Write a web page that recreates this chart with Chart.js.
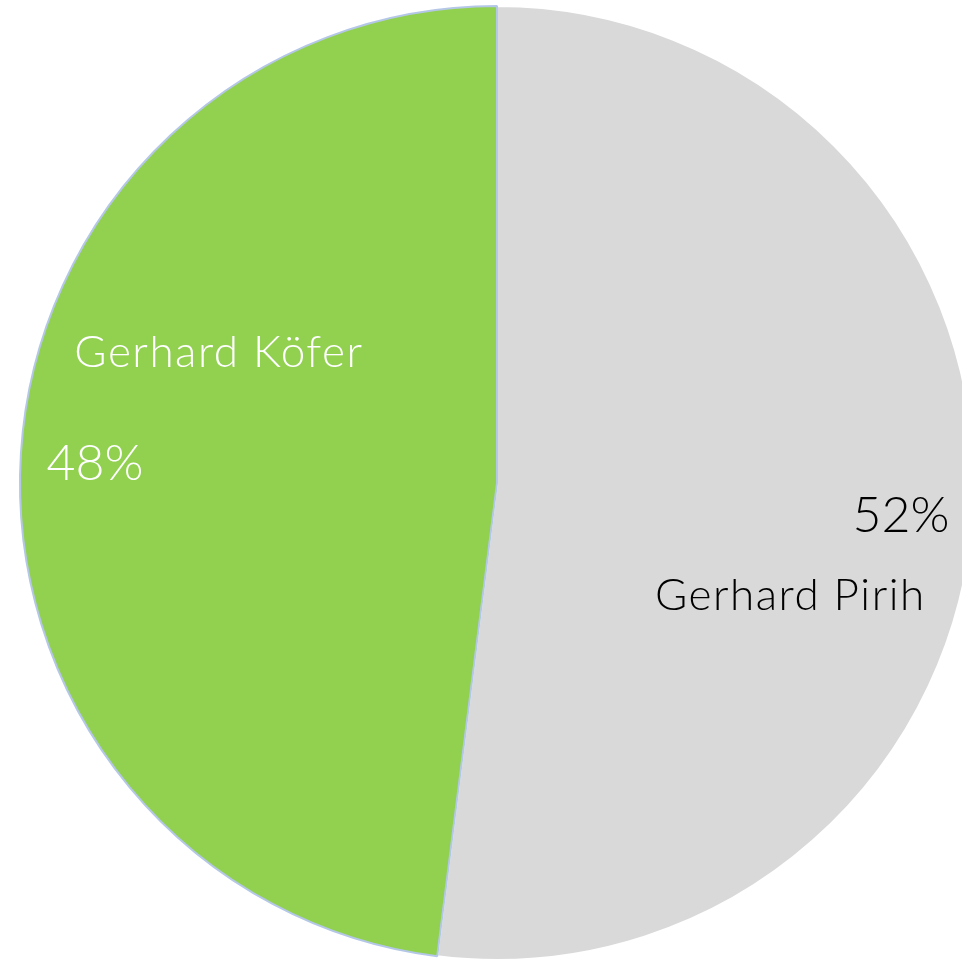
<!DOCTYPE html>
<html>
<head>
<meta charset="utf-8">
<script src="https://cdn.jsdelivr.net/npm/chart.js@4/dist/chart.umd.min.js"></script>
<style>
  html, body { margin: 0; padding: 0; background: #ffffff; overflow: hidden; }
  #wrap { position: relative; width: 994px; height: 966px; }
</style>
</head>
<body>
<div id="wrap"><canvas id="c" width="994" height="966"></canvas></div>
<script>
const categories = ["Gerhard Pirih", "Gerhard Köfer"];
const values = [52, 48];
const percentLabels = ["52%", "48%"];

const sliceColors = ["#d9d9d9", "#92d050"];
const sliceBorders = ["#ffffff", "#b4c7e7"];
const textColors = ["#000000", "#ffffff"];
// label anchor offsets as fractions of the radius (name, percent)
const nameOffsets = [[0.615, 0.266], [-0.583, -0.243]];
const pctOffsets = [[0.847, 0.103], [-0.843, -0.006]];

const labelPlugin = {
  id: 'sliceLabels',
  afterDatasetsDraw(chart) {
    const ctx = chart.ctx;
    const meta = chart.getDatasetMeta(0);
    meta.data.forEach((arc, i) => {
      const r = arc.outerRadius;
      ctx.save();
      ctx.fillStyle = textColors[i];
      ctx.textAlign = 'center';
      ctx.textBaseline = 'alphabetic';
      ctx.font = '300 44px Lato';
      ctx.letterSpacing = '1.5px';
      ctx.fillText(categories[i], arc.x + nameOffsets[i][0] * r, arc.y + nameOffsets[i][1] * r);
      ctx.letterSpacing = '0px';
      ctx.font = '300 50px Lato';
      ctx.fillText(percentLabels[i], arc.x + pctOffsets[i][0] * r, arc.y + pctOffsets[i][1] * r);
      ctx.restore();
    });
  }
};

new Chart(document.getElementById('c'), {
  type: 'pie',
  data: {
    labels: categories,
    datasets: [{
      data: values,
      backgroundColor: sliceColors,
      borderColor: sliceBorders,
      borderWidth: 2
    }]
  },
  options: {
    responsive: false,
    animation: false,
    layout: { padding: 5 },
    plugins: {
      legend: { display: false },
      tooltip: { enabled: false }
    }
  },
  plugins: [labelPlugin]
});
</script>
</body>
</html>
